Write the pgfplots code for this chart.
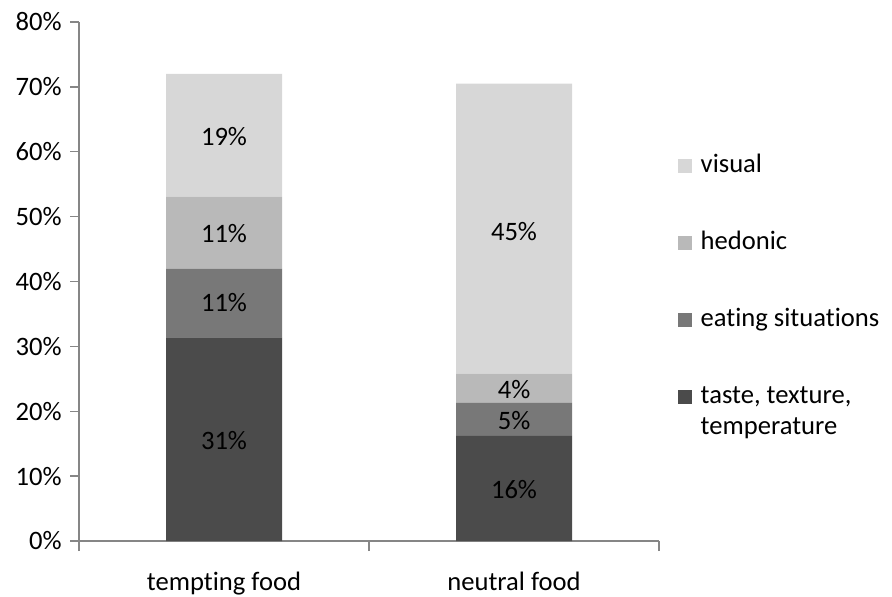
\documentclass[border=0pt]{standalone}
\usepackage{pgfplots}
\pgfplotsset{compat=1.18}
\usepackage{fontspec}
\setmainfont{Carlito}[RawFeature={-liga;-clig}]
\definecolor{cTaste}{HTML}{4B4B4B}
\definecolor{cEat}{HTML}{787878}
\definecolor{cHed}{HTML}{B9B9B9}
\definecolor{cVis}{HTML}{D7D7D7}
\definecolor{axgray}{HTML}{868686}
\begin{document}
\fontsize{13.3pt}{14.5pt}\selectfont
\begin{tikzpicture}
\begin{axis}[
  at={(39.5pt,27.5pt)}, anchor=south west,
  scale only axis, width=290pt, height=259.5pt,
  xmin=0.5, xmax=2.5, ymin=0, ymax=80,
  ybar stacked, bar width=58pt,
  axis lines*=left,
  axis line style={draw=axgray, line width=0.7pt},
  ytick={0,10,...,80},
  yticklabels={0\%,10\%,20\%,30\%,40\%,50\%,60\%,70\%,80\%},
  ytick pos=left, tick align=outside, major tick length=4.5pt,
  y tick style={draw=axgray, line width=0.7pt},
  yticklabel style={anchor=east, inner sep=0pt, xshift=-4pt},
  xtick={1,2}, xticklabels={tempting food, neutral food},
  x tick style={draw=none},
  xticklabel style={anchor=base, inner sep=0pt, yshift=-20pt},
  extra x ticks={0.5,1.5,2.5}, extra x tick labels={},
  extra x tick style={x tick style={draw=axgray, line width=0.7pt}, major tick length=5pt},
  reverse legend,
  legend cell align=left,
  legend image code/.code={\fill[#1] (0pt,-0.5pt) rectangle (7pt,6.5pt);},
  legend style={at={(1.0328,0.7453)}, anchor=north west, draw=none, fill=none,
    inner sep=0pt, outer sep=0pt, row sep=26.5pt, column sep=4.35pt,
    nodes={inner sep=0pt, outer sep=0pt, anchor=base west, text height=9pt, text depth=3pt}},
]
\addplot[fill=cTaste, draw=none] coordinates {(1,31.4) (2,16.2)};
\addlegendentry{\parbox[t]{4cm}{\fontsize{13.3pt}{15.5pt}\selectfont taste, texture,\\temperature}}
\addplot[fill=cEat, draw=none] coordinates {(1,10.6) (2,5.1)};
\addlegendentry{eating situations}
\addplot[fill=cHed, draw=none] coordinates {(1,11.1) (2,4.5)};
\addlegendentry{hedonic}
\addplot[fill=cVis, draw=none] coordinates {(1,18.9) (2,44.7)};
\addlegendentry{visual}
\end{axis}
\begin{axis}[
  at={(39.5pt,27.5pt)}, anchor=south west,
  scale only axis, width=290pt, height=259.5pt,
  xmin=0.5, xmax=2.5, ymin=0, ymax=80, hide axis,
]
\addplot[draw=none, mark=none, nodes near coords, point meta=explicit symbolic,
  every node near coord/.style={anchor=center, inner sep=0pt, text depth=0pt, text=black}]
  coordinates {(1,15.5) [31\%] (1,36.7) [11\%] (1,47.4) [11\%] (1,62.4) [19\%]
               (2,7.9) [16\%] (2,18.6) [5\%] (2,23.3) [4\%] (2,47.7) [45\%]};
\end{axis}
\pgfresetboundingbox
\path[use as bounding box] (0,0) rectangle (446pt,298pt);
\end{tikzpicture}
\end{document}
